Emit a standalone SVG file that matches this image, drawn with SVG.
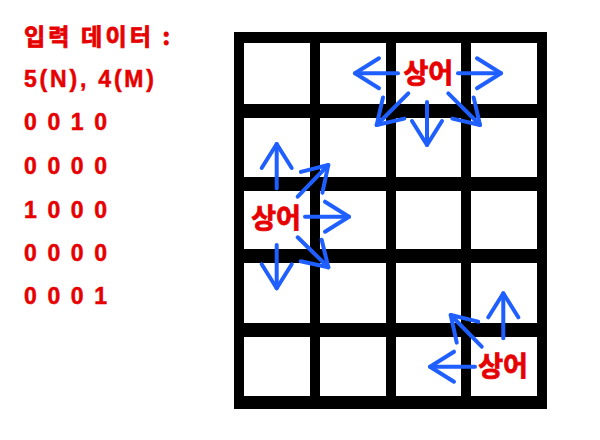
<svg xmlns="http://www.w3.org/2000/svg" width="600" height="440" viewBox="0 0 600 440">
<style>
.lbl{font-family:"Liberation Sans","Noto Sans CJK KR",sans-serif;font-weight:bold;font-size:23px;fill:#e60000;stroke:#e60000;stroke-width:0.5}
.kr{font-family:"Noto Sans CJK KR","Liberation Sans",sans-serif;font-weight:bold;fill:#e60000;stroke:#e60000;stroke-width:0.8}
.shark{font-size:27px;text-anchor:middle}
.cell{fill:#ffffff}
.arr{fill:none;stroke:#1f5fff;stroke-width:4;stroke-linecap:round;marker-end:url(#ah)}
</style>
<defs>
<marker id="ah" markerUnits="userSpaceOnUse" markerWidth="60" markerHeight="60" viewBox="-30 -30 60 60" refX="0" refY="0" orient="auto" overflow="visible">
<path d="M-24,-15 L0,0 L-24,15" fill="none" stroke="#1f5fff" stroke-width="4" stroke-linecap="round" stroke-linejoin="round"/>
</marker>
</defs>
<rect width="600" height="440" fill="#ffffff"/>
<g id="input-text">
<text class="kr" x="24" y="45" font-size="23" textLength="146" lengthAdjust="spacing">입력 데이터 :</text>
<text class="lbl" x="24" y="86.5" textLength="130" lengthAdjust="spacing">5(N), 4(M)</text>
<text class="lbl" x="24" y="130" textLength="83" lengthAdjust="spacing">0 0 1 0</text>
<text class="lbl" x="24" y="173.5" textLength="83" lengthAdjust="spacing">0 0 0 0</text>
<text class="lbl" x="24" y="217.5" textLength="83" lengthAdjust="spacing">1 0 0 0</text>
<text class="lbl" x="24" y="260.5" textLength="83" lengthAdjust="spacing">0 0 0 0</text>
<text class="lbl" x="24" y="303.5" textLength="83" lengthAdjust="spacing">0 0 0 1</text>
</g>
<g id="grid">
<rect x="234" y="32" width="313" height="377" fill="#000000"/>
<rect class="cell" x="244" y="43" width="66" height="61"/>
<rect class="cell" x="320" y="43" width="66" height="61"/>
<rect class="cell" x="396" y="43" width="65" height="61"/>
<rect class="cell" x="471" y="43" width="66" height="61"/>
<rect class="cell" x="244" y="118" width="66" height="59"/>
<rect class="cell" x="320" y="118" width="66" height="59"/>
<rect class="cell" x="396" y="118" width="65" height="59"/>
<rect class="cell" x="471" y="118" width="66" height="59"/>
<rect class="cell" x="244" y="191" width="66" height="58"/>
<rect class="cell" x="320" y="191" width="66" height="58"/>
<rect class="cell" x="396" y="191" width="65" height="58"/>
<rect class="cell" x="471" y="191" width="66" height="58"/>
<rect class="cell" x="244" y="263" width="66" height="60"/>
<rect class="cell" x="320" y="263" width="66" height="60"/>
<rect class="cell" x="396" y="263" width="65" height="60"/>
<rect class="cell" x="471" y="263" width="66" height="60"/>
<rect class="cell" x="244" y="337" width="66" height="59"/>
<rect class="cell" x="320" y="337" width="66" height="59"/>
<rect class="cell" x="396" y="337" width="65" height="59"/>
<rect class="cell" x="471" y="337" width="66" height="59"/>
</g>
<g id="connectors">
<line class="arr" x1="398" y1="73.3" x2="355" y2="73.3"/>
<line class="arr" x1="458" y1="73.3" x2="501" y2="73.3"/>
<line class="arr" x1="427" y1="102" x2="427" y2="145"/>
<line class="arr" x1="408.3" y1="93.3" x2="376.7" y2="125"/>
<line class="arr" x1="448.3" y1="93.3" x2="480" y2="125"/>
<line class="arr" x1="276.7" y1="188.3" x2="276.7" y2="144"/>
<line class="arr" x1="276.7" y1="245" x2="276.7" y2="288.3"/>
<line class="arr" x1="305" y1="216.7" x2="349" y2="216.7"/>
<line class="arr" x1="297.7" y1="196.7" x2="328.3" y2="165"/>
<line class="arr" x1="297.7" y1="237.3" x2="328.3" y2="267.3"/>
<line class="arr" x1="475" y1="366.7" x2="430" y2="366.7"/>
<line class="arr" x1="503.3" y1="338.3" x2="503.3" y2="293.3"/>
<line class="arr" x1="481.7" y1="346.7" x2="450.7" y2="315"/>
</g>
<g id="shark-1"><text class="kr shark" x="428.3" y="83">상어</text></g>
<g id="shark-2"><text class="kr shark" x="276" y="228">상어</text></g>
<g id="shark-3"><text class="kr shark" x="503" y="376">상어</text></g>
</svg>
